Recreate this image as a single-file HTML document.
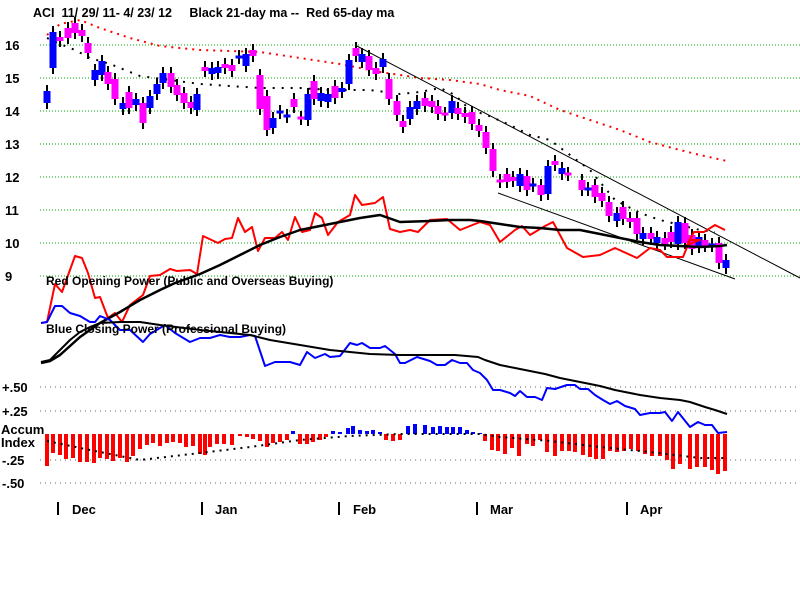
<!DOCTYPE html>
<html><head><style>
html,body{margin:0;padding:0;background:#fff;width:800px;height:600px;overflow:hidden}
svg text{font-family:"Liberation Sans",sans-serif;font-weight:bold;fill:#000}
</style></head><body>
<svg id="s" width="800" height="600" xmlns="http://www.w3.org/2000/svg">
<rect width="800" height="600" fill="#fff"/>
<g id="grid"></g>
<text x="33" y="17" font-size="12.5" style="white-space:pre" xml:space="preserve">ACI  11/ 29/ 11- 4/ 23/ 12     Black 21-day ma --  Red 65-day ma</text>
<g font-size="13">
<text x="5" y="50">16</text><text x="5" y="83">15</text><text x="5" y="116">14</text><text x="5" y="149">13</text>
<text x="5" y="182">12</text><text x="5" y="215">11</text><text x="5" y="248">10</text><text x="5" y="281">9</text>
<text x="2" y="392">+.50</text><text x="2" y="416">+.25</text><text x="1" y="434">Accum</text><text x="1" y="447">Index</text>
<text x="2" y="465">-.25</text><text x="2" y="488">-.50</text>
<text x="72" y="514">Dec</text><text x="215" y="514">Jan</text><text x="353" y="514">Feb</text><text x="490" y="514">Mar</text><text x="640" y="514">Apr</text>
</g>
<g stroke="#000" stroke-width="2"><line x1="58" y1="502" x2="58" y2="515"/><line x1="202" y1="502" x2="202" y2="515"/><line x1="339" y1="502" x2="339" y2="515"/><line x1="477" y1="502" x2="477" y2="515"/><line x1="627" y1="502" x2="627" y2="515"/></g>
<g id="dyn"></g>
<text x="46" y="285" font-size="12">Red Opening Power (Public and Overseas Buying)</text>
<text x="46" y="333" font-size="12">Blue Closing Power (Professional Buying)</text>
</svg>
<script>
const NS="http://www.w3.org/2000/svg";
function el(p,t,a){const e=document.createElementNS(NS,t);for(const k in a)e.setAttribute(k,a[k]);p.appendChild(e);return e;}
const g=document.getElementById('grid'),d=document.getElementById('dyn');
[45,78,111,144,177,210,243,276].forEach(y=>el(g,'line',{x1:40,y1:y,x2:800,y2:y,stroke:'#0a0','stroke-width':1,'stroke-dasharray':'1 2'}));
[387,411,460,483].forEach(y=>el(g,'line',{x1:40,y1:y,x2:800,y2:y,stroke:'#666','stroke-width':1,'stroke-dasharray':'1 4'}));
function pl(pts,col,w,dash){el(d,'polyline',{points:pts.map(p=>p.join(',')).join(' '),fill:'none',stroke:col,'stroke-width':w,'stroke-dasharray':dash||'none','stroke-linejoin':'round'});}
pl([[47,35],[60,24],[80,20],[100,28],[130,38],[160,46],[200,50],[260,52],[300,58],[340,64],[380,72],[420,78],[450,80],[480,84],[500,90],[530,96],[560,110],[590,120],[620,130],[650,142],[680,150],[700,155],[727,161]],'#f00',2,'2 5');
pl([[47,38],[60,44],[75,50],[90,58],[110,64],[125,70],[140,76],[170,80],[200,84],[230,86],[260,88],[300,88],[330,90],[370,90],[400,94],[420,92],[440,88],[455,95],[470,110],[487,115],[510,125],[530,135],[550,140],[570,155],[590,170],[615,200],[640,213],[660,220],[680,225],[700,230],[715,232]],'#000',2,'2 7');
el(d,'line',{x1:355,y1:45,x2:800,y2:278,stroke:'#000','stroke-width':1});
el(d,'line',{x1:498,y1:193,x2:735,y2:279,stroke:'#000','stroke-width':1});
const C=[[47,97,6,'b'],[53,50,18,'b'],[60,39,2,'m'],[68,33,5,'m'],[75,28,5,'m'],[82,33,3,'m'],[88,48,5,'m'],[95,75,5,'b'],[102,68,7,'b'],[108,78,6,'m'],[115,89,10,'m'],[123,106,3,'b'],[129,100,8,'m'],[136,102,3,'b'],[143,113,10,'m'],[150,102,6,'b'],[157,89,5,'b'],[163,78,5,'b'],[171,80,7,'m'],[177,90,5,'m'],[184,98,5,'m'],[191,105,3,'m'],[197,102,8,'b'],[205,69,2,'m'],[212,71,3,'b'],[218,70,3,'b'],[225,66,2,'m'],[232,68,3,'m'],[239,57,1,'b'],[246,60,6,'b'],[253,53,3,'m'],[260,92,17,'m'],[267,113,17,'m'],[273,123,5,'b'],[280,112,1,'b'],[287,116,1,'b'],[294,103,4,'m'],[301,118,1,'m'],[308,107,13,'b'],[314,90,9,'m'],[321,97,4,'b'],[328,98,4,'b'],[335,92,6,'m'],[342,90,2,'b'],[349,72,12,'b'],[356,52,4,'m'],[362,58,4,'b'],[369,63,7,'m'],[376,71,3,'m'],[383,63,4,'b'],[389,89,10,'m'],[397,108,7,'m'],
[403,124,3,'m'],[410,113,6,'b'],[417,105,4,'b'],[425,102,4,'m'],[432,104,3,'m'],[438,110,4,'m'],[445,114,1,'m'],[452,107,6,'b'],[458,111,3,'m'],[465,115,2,'m'],[472,118,6,'m'],[479,128,3,'m'],[486,140,8,'m'],[493,160,11,'m'],[500,181,1,'m'],[507,178,4,'m'],[513,179,2,'m'],[520,180,6,'b'],[527,183,7,'m'],[533,185,1,'b'],[541,190,5,'m'],[548,180,14,'b'],[555,163,2,'m'],[562,171,3,'b'],[568,174,1,'m'],[582,185,5,'m'],[588,189,1,'b'],[595,191,6,'m'],[602,197,4,'m'],[609,209,7,'m'],[617,217,4,'b'],[623,213,6,'m'],[630,220,2,'m'],[637,226,8,'m'],[643,236,3,'b'],[651,236,3,'m'],[657,240,3,'b'],[665,241,3,'m'],[671,237,5,'m'],[678,233,11,'b'],[685,233,10,'m'],[692,242,7,'m'],[699,242,5,'b'],[705,243,3,'m'],[712,245,1,'b'],[719,253,10,'m'],[726,264,4,'b']];
C.forEach(([x,y,h,c])=>{
 el(d,'line',{x1:x,y1:y-h-6,x2:x,y2:y+h+6,stroke:'#000','stroke-width':2});
 el(d,'rect',{x:x-3.5,y:y-Math.max(h,1.5),width:7,height:Math.max(2*h,3),fill:c=='b'?'#00f':'#f0f'});
});
pl([[41,323],[47,322],[55,284],[62,292],[75,256],[82,258],[88,273],[95,298],[100,297],[108,318],[115,313],[122,322],[130,305],[143,295],[150,276],[160,275],[170,269],[177,271],[190,270],[197,274],[203,236],[218,243],[225,239],[232,238],[238,218],[245,232],[252,227],[258,251],[265,238],[275,238],[282,232],[288,240],[295,217],[302,232],[310,230],[315,213],[322,218],[328,235],[338,222],[350,215],[355,195],[362,205],[375,203],[383,197],[390,229],[400,232],[410,230],[418,232],[430,220],[447,219],[460,230],[480,222],[490,225],[500,242],[515,230],[522,226],[530,235],[545,226],[553,222],[567,248],[583,257],[600,255],[615,248],[637,258],[650,248],[660,250],[667,257],[683,257],[690,240],[700,240],[705,245],[712,232],[722,232],[733,225],[743,230]].map(p=>[p[0]>700?p[0]-18:p[0],p[1]]),'#f00',2);
pl([[41,363],[50,361],[60,355],[80,337],[100,323],[120,312],[140,300],[160,290],[175,283],[200,274],[220,265],[240,255],[260,245],[280,237],[300,230],[320,226],[340,222],[360,218],[380,215],[400,222],[430,221],[450,220],[470,220],[480,221],[500,224],[520,227],[540,228],[560,230],[580,230],[600,234],[620,238],[640,242],[660,245],[680,246],[700,247],[720,246],[727,245]],'#000',2.5);
pl([[41,323],[47,322],[55,306],[62,306],[70,313],[80,316],[90,322],[95,322],[100,316],[110,320],[120,330],[130,330],[143,342],[150,334],[165,325],[175,333],[190,342],[200,338],[210,338],[220,335],[230,337],[240,337],[250,335],[255,336],[265,366],[275,362],[290,362],[300,365],[307,352],[315,358],[325,354],[330,357],[340,356],[350,343],[357,345],[362,343],[370,348],[380,348],[385,346],[395,354],[400,363],[405,363],[417,357],[430,361],[437,365],[445,365],[452,360],[460,363],[467,363],[473,370],[480,373],[487,380],[493,390],[500,390],[510,393],[515,396],[520,391],[527,397],[535,397],[542,400],[547,388],[555,389],[567,385],[575,385],[580,389],[588,389],[595,395],[603,400],[610,404],[617,401],[625,406],[635,409],[640,415],[650,413],[660,413],[665,412],[672,421],[678,412],[690,427],[698,422],[705,425],[712,425],[718,433],[727,432]],'#00f',2);
pl([[41,362],[50,360],[60,350],[70,340],[80,332],[90,327],[100,323],[120,322],[140,322],[160,325],[200,330],[250,335],[270,340],[300,345],[330,350],[350,352],[370,354],[400,355],[420,355],[455,355],[478,357],[485,360],[500,365],[515,368],[530,371],[545,374],[560,378],[585,383],[600,386],[615,390],[625,392],[640,395],[660,398],[680,400],[690,402],[705,407],[715,410],[727,414]],'#000',2);
const A=[[47,466],[53,453],[60,455],[66,459],[73,458],[80,462],[87,462],[94,463],[100,458],[107,459],[113,461],[120,458],[127,462],[133,456],[140,449],[147,445],[153,443],[160,446],[167,443],[173,442],[180,443],[186,447],[193,446],[200,454],[205,455],[210,447],[217,444],[224,444],[232,445],[240,436],[247,437],[253,439],[260,441],[267,447],[273,443],[280,442],[287,440],[293,431],[300,444],[307,444],[313,442],[320,440],[326,437],[333,431],[340,432],[348,428],[353,426],[360,430],[367,431],[373,430],[380,432],[386,440],[393,441],[400,440],[408,426],[415,424],[425,425],[433,427],[440,426],[447,427],[453,427],[460,427],[467,430],[473,432],[480,433],[485,441],[492,450],[498,451],[505,454],[512,448],[519,456],[527,444],[533,446],[540,440],[547,452],[555,456],[562,451],[569,451],[575,452],[583,455],[590,457],[596,459],[603,459],[610,451],[617,452],[624,451],[631,449],[638,451],[645,454],[652,456],[660,456],[667,460],[673,469],[680,464],[690,469],[697,467],[705,467],[712,470],[718,474],[725,471]];
A.forEach(([x,y])=>{const z=434;if(y<z)el(d,'rect',{x:x-2,y:y,width:4,height:z-y,fill:'#00f'});else el(d,'rect',{x:x-2,y:z,width:4,height:Math.max(y-z,2),fill:'#f00'});});
pl([[47,441],[90,450],[140,460],[200,453],[250,447],[300,440],[350,436],[400,434],[480,434],[500,437],[550,441],[600,447],[650,452],[700,458],[727,458]],'#000',2,'2 5');
</script>
</body></html>
